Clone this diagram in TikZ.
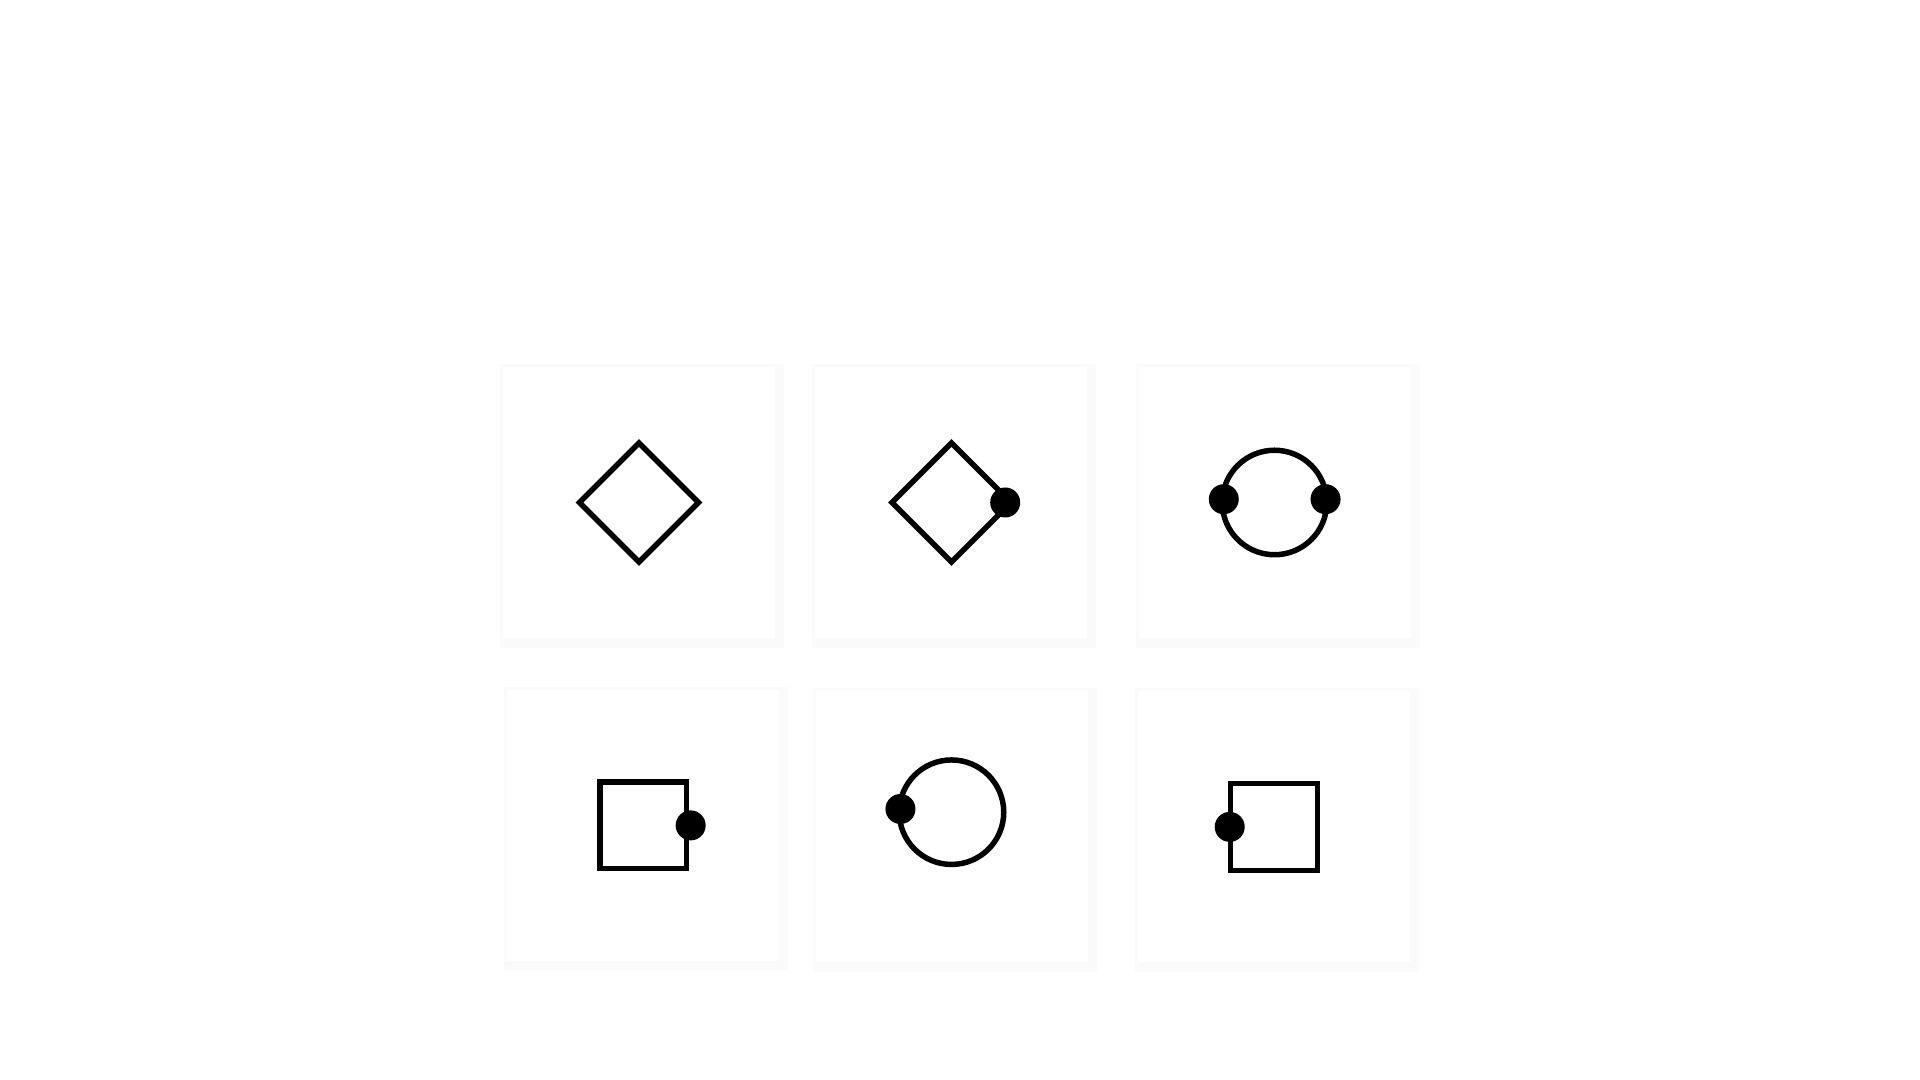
\documentclass[tikz,border=0pt]{standalone}
\usetikzlibrary{shapes.geometric}

\begin{document}
\begin{tikzpicture}

\tikzstyle{panel}=[rectangle,fill=white,minimum width=2.72cm,minimum height=2.71cm,inner sep=0pt]
\tikzstyle{panel shadow}=[rectangle,fill=black!2,minimum size=2.84cm,inner sep=0pt]
\tikzstyle{glyph}=[draw=black,line width=0.055cm,inner sep=0pt,outer sep=0pt]
\tikzstyle{dot}=[circle,fill=black,minimum size=0.3cm,inner sep=0pt]

\useasboundingbox (0,0) rectangle (19.2,10.8);

\foreach \n/\x/\y in {1/6.39/5.775,2/9.514/5.775,3/12.745/5.775,4/6.432/2.546,5/9.515/2.531,6/12.742/2.531}{
  \node[panel shadow] at (\x+0.03,\y-0.035) {};
  \node[panel](p\n) at (\x,\y) {};
}

\node[glyph,diamond,minimum size=1.19cm](g1) at (p1) {};
\node[glyph,diamond,minimum size=1.19cm](g2) at (p2) {};
\node[glyph,circle,minimum size=1.045cm](g3) at (p3) {};
\node[glyph,rectangle,minimum size=0.865cm](g4) at (p4) {};
\node[glyph,circle,minimum size=1.045cm](g5) at ([yshift=0.147cm]p5.center) {};
\node[glyph,rectangle,minimum size=0.87cm](g6) at (p6) {};

% dots on the outlines
\node[dot](d2) at ([xshift=-0.057cm]g2.east) {};
\node[dot](d3a) at ([shift={(0.015,0.033)}]g3.west) {};
\node[dot](d3b) at ([shift={(-0.012,0.033)}]g3.east) {};
\node[dot](d4) at ([xshift=0.042cm]g4.east) {};
\node[dot](d5) at ([shift={(0.012,0.032)}]g5.west) {};
\node[dot](d6) at ([xshift=-0.01cm]g6.west) {};

\end{tikzpicture}
\end{document}
